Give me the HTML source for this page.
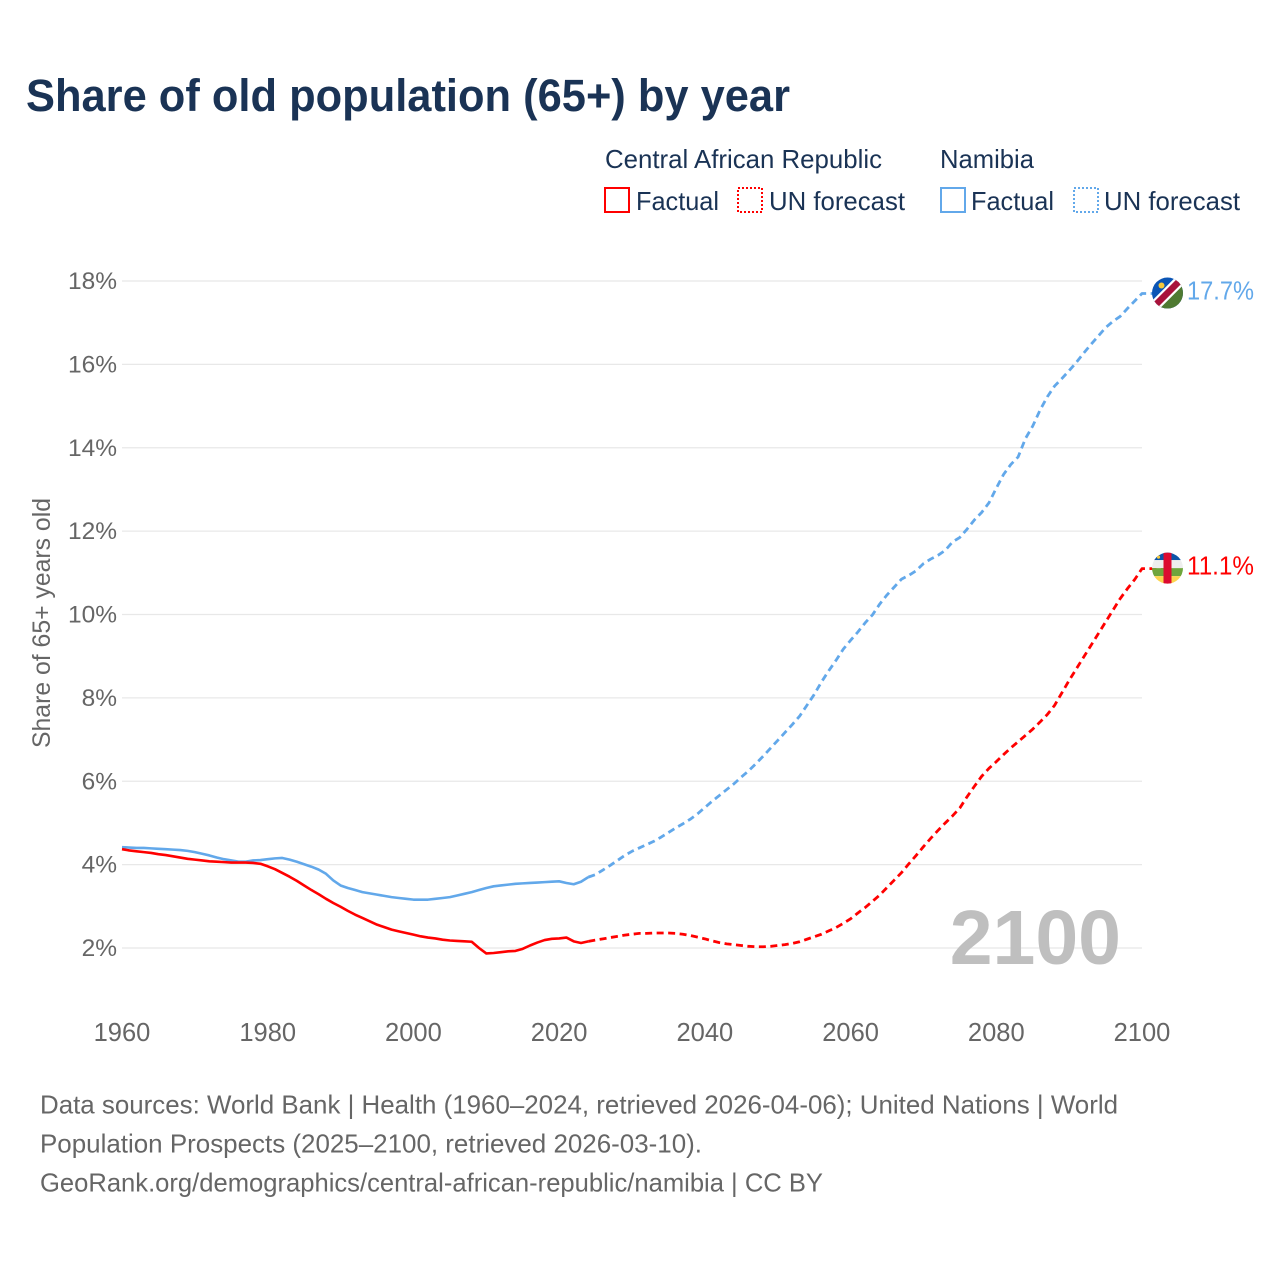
<!DOCTYPE html>
<html lang="en">
<head>
<meta charset="utf-8">
<title>Share of old population (65+) by year</title>
<style>
html,body{margin:0;padding:0;background:#fff}
svg{display:block}
text{font-family:"Liberation Sans",sans-serif}
</style>
</head>
<body>
<svg id="chart" xmlns="http://www.w3.org/2000/svg" width="1280" height="1280" viewBox="0 0 1280 1280">
  <rect width="1280" height="1280" fill="#ffffff"/>
  <text x="26" y="111" font-size="45" font-weight="700" fill="#1a3355" textLength="764" lengthAdjust="spacingAndGlyphs">Share of old population (65+) by year</text>

  <g>
    <text x="605" y="168" font-size="26" fill="#1a3355" textLength="277" lengthAdjust="spacingAndGlyphs">Central African Republic</text>
    <text x="940" y="168" font-size="26" fill="#1a3355" textLength="94" lengthAdjust="spacingAndGlyphs">Namibia</text>
    <rect x="605" y="188" width="24" height="24" fill="none" stroke="#ff0000" stroke-width="2"/>
    <text x="636" y="210" font-size="26" fill="#1a3355" textLength="83" lengthAdjust="spacingAndGlyphs">Factual</text>
    <rect x="738" y="188" width="24" height="24" fill="none" stroke="#ff0000" stroke-width="2" stroke-dasharray="2 2"/>
    <text x="769" y="210" font-size="26" fill="#1a3355" textLength="136" lengthAdjust="spacingAndGlyphs">UN forecast</text>
    <rect x="941" y="188" width="24" height="24" fill="none" stroke="#62a8ea" stroke-width="2"/>
    <text x="971" y="210" font-size="26" fill="#1a3355" textLength="83" lengthAdjust="spacingAndGlyphs">Factual</text>
    <rect x="1074" y="188" width="24" height="24" fill="none" stroke="#62a8ea" stroke-width="2" stroke-dasharray="2 2"/>
    <text x="1104" y="210" font-size="26" fill="#1a3355" textLength="136" lengthAdjust="spacingAndGlyphs">UN forecast</text>
  </g>

  <g id="grid"></g>
  <g id="yticks"></g>
  <g id="xticks"></g>
  <text transform="translate(50 623) rotate(-90)" text-anchor="middle" font-size="25" fill="#666666" textLength="250" lengthAdjust="spacingAndGlyphs">Share of 65+ years old</text>

  <text id="yearLabel" x="1121" y="964" text-anchor="end" font-size="77" font-weight="700" fill="#bfbfbf"></text>

  <g id="series"></g>

  <defs>
    <clipPath id="flagClip"><circle cx="0" cy="0" r="15.5"/></clipPath>
  </defs>
  <g id="flagNamibia" clip-path="url(#flagClip)">
    <rect x="-16" y="-16" width="32" height="32" fill="#0b55b5"/>
    <polygon points="16,-16 16,16 -16,16" fill="#4f7a32"/>
    <line x1="16" y1="-16" x2="-16" y2="16" stroke="#ffffff" stroke-width="11"/>
    <line x1="16" y1="-16" x2="-16" y2="16" stroke="#a8123a" stroke-width="6.5"/>
    <circle cx="-6" cy="-7.5" r="3" fill="#f5c83c"/>
  </g>
  <g id="flagCar" clip-path="url(#flagClip)">
    <rect x="-16" y="-16" width="32" height="8" fill="#0b55a8"/>
    <rect x="-16" y="-8" width="32" height="8" fill="#eeeeee"/>
    <rect x="-16" y="0" width="32" height="8" fill="#6fa53c"/>
    <rect x="-16" y="8" width="32" height="8" fill="#fbd44e"/>
    <rect x="-4" y="-16" width="8" height="32" fill="#dc0a30"/>
    <circle cx="-9" cy="-11" r="1.6" fill="#f5c83c"/>
  </g>
  <text id="labelNamibia" x="1187" font-size="26" fill="#62a8ea" textLength="67" lengthAdjust="spacingAndGlyphs"></text>
  <text id="labelCar" x="1187" font-size="26" fill="#ff0000" textLength="67" lengthAdjust="spacingAndGlyphs"></text>

  <g>
    <text x="40" y="1113.5" font-size="26" fill="#666666" textLength="1078" lengthAdjust="spacingAndGlyphs">Data sources: World Bank | Health (1960–2024, retrieved 2026-04-06); United Nations | World</text>
    <text x="40" y="1152.5" font-size="26" fill="#666666" textLength="662" lengthAdjust="spacingAndGlyphs">Population Prospects (2025–2100, retrieved 2026-03-10).</text>
    <text x="40" y="1191.5" font-size="26" fill="#666666" textLength="783" lengthAdjust="spacingAndGlyphs">GeoRank.org/demographics/central-african-republic/namibia | CC BY</text>
  </g>
</svg>
<script>
var factualYearStart = [1960];
var forecastYearStart = [2024];
var xTickValues = [1960, 1980, 2000, 2020, 2040, 2060, 2080, 2100];
var yTickValues = [2, 4, 6, 8, 10, 12, 14, 16, 18];

var carFactual = [
  4.37,4.34,4.32,4.30,4.28,4.25,4.23,4.20,4.17,4.14,
  4.12,4.10,4.08,4.07,4.06,4.05,4.05,4.05,4.04,4.02,
  3.96,3.89,3.80,3.71,3.61,3.50,3.39,3.29,3.18,3.08,
  2.99,2.89,2.80,2.72,2.64,2.56,2.50,2.44,2.40,2.36,
  2.32,2.28,2.25,2.23,2.20,2.18,2.17,2.16,2.15,2.00,
  1.87,1.88,1.90,1.92,1.93,1.98,2.06,2.13,2.19,2.22,
  2.23,2.25,2.16,2.12,2.16
];
var carForecast = [
  2.16,
  2.19,2.22,2.25,2.28,2.31,
  2.33,2.35,2.35,2.36,2.36,2.36,2.35,2.33,2.30,2.26,
  2.22,2.17,2.13,2.10,2.08,2.06,2.04,2.03,2.03,2.04,
  2.06,2.08,2.11,2.15,2.21,2.27,2.33,2.41,2.49,2.59,
  2.70,2.84,2.97,3.12,3.27,3.45,3.63,3.81,4.02,4.22,
  4.43,4.63,4.82,5.00,5.17,5.36,5.63,5.88,6.12,6.31,
  6.47,6.64,6.80,6.95,7.10,7.25,7.42,7.60,7.82,8.12,
  8.42,8.70,8.98,9.26,9.54,9.82,10.10,10.38,10.62,10.84,
  11.1
];
var namibiaFactual = [
  4.42,4.41,4.40,4.40,4.39,4.38,4.37,4.36,4.35,4.33,
  4.30,4.26,4.22,4.17,4.13,4.10,4.07,4.07,4.10,4.11,
  4.13,4.15,4.16,4.12,4.07,4.01,3.95,3.88,3.78,3.62,
  3.50,3.44,3.39,3.34,3.31,3.28,3.25,3.22,3.20,3.18,
  3.16,3.16,3.16,3.18,3.20,3.22,3.26,3.30,3.34,3.39,
  3.44,3.48,3.50,3.52,3.54,3.55,3.56,3.57,3.58,3.59,
  3.60,3.56,3.53,3.59,3.70
];
var namibiaForecast = [
  3.70,
  3.76,3.87,3.98,4.10,4.22,
  4.32,4.40,4.48,4.56,4.66,4.77,4.88,4.98,5.09,5.22,
  5.37,5.52,5.66,5.80,5.94,6.10,6.25,6.42,6.60,6.79,
  6.98,7.17,7.36,7.56,7.82,8.08,8.38,8.65,8.90,9.17,
  9.38,9.58,9.80,9.99,10.25,10.47,10.66,10.85,10.94,11.05,
  11.22,11.33,11.42,11.54,11.74,11.85,12.05,12.27,12.45,12.68,
  13.03,13.36,13.60,13.78,14.22,14.52,14.90,15.22,15.48,15.66,
  15.85,16.05,16.27,16.48,16.68,16.88,17.03,17.15,17.34,17.52,
  17.7
];

var NS = 'http://www.w3.org/2000/svg';
function xScale(year) { return 122 + (year - 1960) * (1142 - 122) / 140; }
function yScale(v) { return 948 - (v - 2) * (948 - 281) / 16; }
function make(tag, parentId) {
  var el = document.createElementNS(NS, tag);
  document.getElementById(parentId).appendChild(el);
  return el;
}
function pointsFrom(startYear, values) {
  return values.map(function (v, i) {
    return xScale(startYear + i).toFixed(2) + ',' + yScale(v).toFixed(2);
  });
}

yTickValues.forEach(function (t) {
  var line = make('line', 'grid');
  
  
  line.setAttribute('x1', xScale(1960));
  line.setAttribute('x2', xScale(2100));
  line.setAttribute('y1', yScale(t));
  line.setAttribute('y2', yScale(t));
  line.setAttribute('stroke', '#e8e8e8');
  line.setAttribute('stroke-width', '1.2');

  var label = make('text', 'yticks');
  
  
  label.setAttribute('x', 117);
  label.setAttribute('y', yScale(t) + 8);
  label.setAttribute('text-anchor', 'end');
  label.setAttribute('font-size', '24.5');
  label.setAttribute('fill', '#666666');
  label.textContent = t + '%';
});

xTickValues.forEach(function (t) {
  var label = make('text', 'xticks');
  
  
  label.setAttribute('x', xScale(t));
  label.setAttribute('y', 1041);
  label.setAttribute('text-anchor', 'middle');
  label.setAttribute('font-size', '25.5');
  label.setAttribute('fill', '#666666');
  label.textContent = t;
});

function drawSeries(name, color, factual, forecast) {
  var solid = make('polyline', 'series');
  
  
  solid.setAttribute('points', pointsFrom(factualYearStart[0], factual).join(' '));
  solid.setAttribute('fill', 'none');
  solid.setAttribute('stroke', color);
  solid.setAttribute('stroke-width', '2.6');
  solid.setAttribute('stroke-linejoin', 'round');

  var pts = pointsFrom(forecastYearStart[0], forecast);
  var lastY = yScale(forecast[forecast.length - 1]);
  pts.push('1168,' + lastY.toFixed(2));
  var dashed = make('polyline', 'series');
  
  
  dashed.setAttribute('points', pts.join(' '));
  dashed.setAttribute('fill', 'none');
  dashed.setAttribute('stroke', color);
  dashed.setAttribute('stroke-width', '2.8');
  dashed.setAttribute('stroke-dasharray', '7 4.5');
  dashed.setAttribute('stroke-linejoin', 'round');
}
drawSeries('namibia', '#62a8ea', namibiaFactual, namibiaForecast);
drawSeries('central-african-republic', '#ff0000', carFactual, carForecast);

function placeEnd(flagId, labelId, value) {
  var y = yScale(value);
  document.getElementById(flagId).setAttribute('transform', 'translate(1167.5 ' + (y - 0.5).toFixed(2) + ')');
  var label = document.getElementById(labelId);
  label.setAttribute('y', (y + 6).toFixed(2));
  label.textContent = value.toFixed(1) + '%';
}
placeEnd('flagNamibia', 'labelNamibia', namibiaForecast[namibiaForecast.length - 1]);
placeEnd('flagCar', 'labelCar', carForecast[carForecast.length - 1]);

document.getElementById('yearLabel').textContent = xTickValues[xTickValues.length - 1];
</script>
</body>
</html>
